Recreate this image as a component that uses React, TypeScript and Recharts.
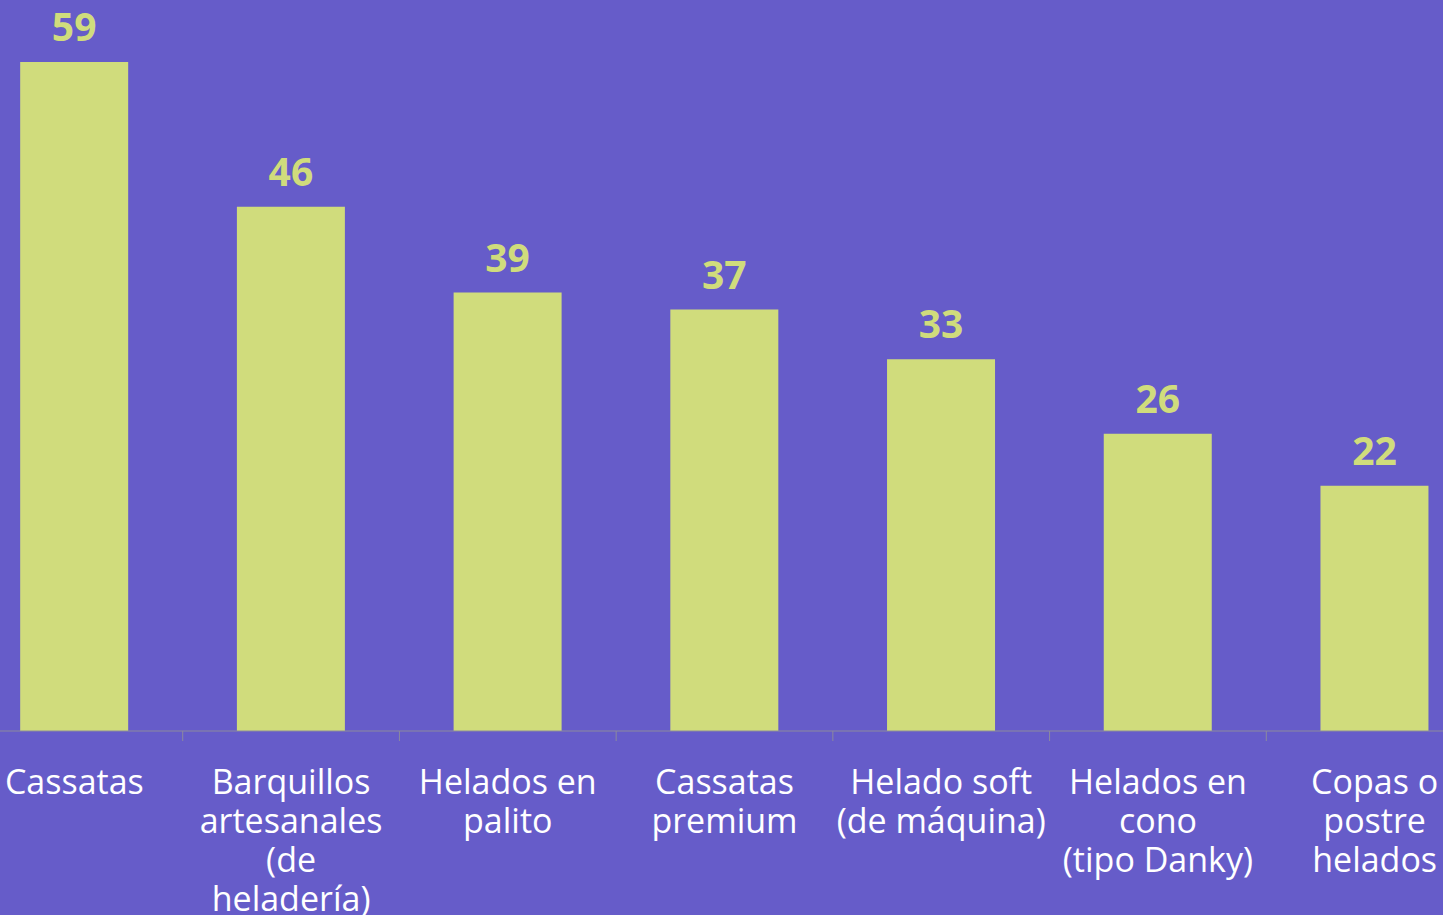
import React from "react";
import { BarChart, Bar, XAxis, YAxis, LabelList } from "recharts";

const categories: string[] = [
  "Cassatas",
  "Barquillos\nartesanales\n(de\nheladería)",
  "Helados en\npalito",
  "Cassatas\npremium",
  "Helado soft\n(de máquina)",
  "Helados en\ncono\n(tipo Danky)",
  "Copas o\npostre\nhelados",
];
const values: number[] = [59.2, 46.4, 38.8, 37.3, 32.9, 26.3, 21.7];
const yDomain: [number, number] = [0, 60];

const data = categories.map((c, i) => ({ name: c, value: values[i] }));

const BG = "#665CC9";
const BAR = "#D0DC7C";
const AXIS = "#8C8A9E";
const FONT = "'Open Sans', sans-serif";

const CHART_W = 1517;
const CHART_H = 915;

const CustomTick = (props: any) => {
  const { x, y, payload } = props;
  const half =
    payload && typeof payload.offset === "number" && payload.offset > 0
      ? payload.offset
      : CHART_W / categories.length / 2;
  const lines = String(payload.value).split("\n");
  return (
    <g>
      <line x1={x - half} y1={y} x2={x - half} y2={y + 10} stroke={AXIS} strokeWidth={1} />
      <text
        x={x}
        y={y + 63}
        textAnchor="middle"
        fill="#FFFFFF"
        fontFamily={FONT}
        fontSize={34}
      >
        {lines.map((l, i) => (
          <tspan key={i} x={x} dy={i === 0 ? 0 : 39}>
            {l}
          </tspan>
        ))}
      </text>
    </g>
  );
};

const ValueLabel = (props: any) => {
  const { x, y, width, value } = props;
  return (
    <text
      x={x + width / 2}
      y={y - 21}
      textAnchor="middle"
      fill={BAR}
      fontFamily={FONT}
      fontWeight={700}
      fontSize={39}
    >
      {Math.round(value)}
    </text>
  );
};

export default function App() {
  return (
    <div
      style={{
        position: "absolute",
        left: 0,
        top: 0,
        width: 1443,
        height: 915,
        overflow: "hidden",
        background: BG,
      }}
    >
      <div style={{ position: "absolute", left: -34, top: 0 }}>
        <BarChart
          width={CHART_W}
          height={CHART_H}
          data={data}
          margin={{ top: 53, right: 0, left: 0, bottom: 34 }}
          barCategoryGap="25%"
        >
          <XAxis
            dataKey="name"
            interval={0}
            height={150}
            tickSize={0}
            tickMargin={0}
            tickLine={false}
            axisLine={{ stroke: AXIS, strokeWidth: 1 }}
            tick={<CustomTick />}
          />
          <YAxis hide domain={yDomain} />
          <Bar dataKey="value" fill={BAR} isAnimationActive={false}>
            <LabelList dataKey="value" content={<ValueLabel />} />
          </Bar>
        </BarChart>
      </div>
    </div>
  );
}
